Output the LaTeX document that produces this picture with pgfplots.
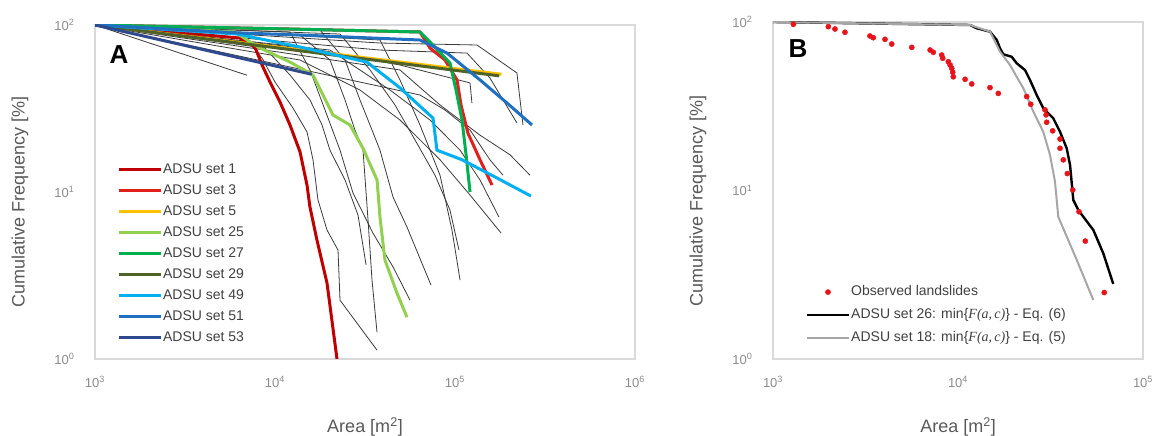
\documentclass[border=0pt]{standalone}
\usepackage{fontspec}
\setmainfont{Liberation Sans}
\newfontfamily\serifit{Liberation Serif}
\usepackage{pgfplots}
\pgfplotsset{compat=1.18}
\definecolor{axgray}{HTML}{D9D9D9}
\definecolor{labgray}{HTML}{595959}
\definecolor{tickgray}{HTML}{8C8C8C}
\definecolor{legtext}{HTML}{404040}
\definecolor{thincol}{HTML}{3A3A3A}
\definecolor{sA}{HTML}{C00000}
\definecolor{sB}{HTML}{E0201B}
\definecolor{sC}{HTML}{FFC000}
\definecolor{sD}{HTML}{92D050}
\definecolor{sE}{HTML}{00B050}
\definecolor{sF}{HTML}{4F6228}
\definecolor{sG}{HTML}{00B0F0}
\definecolor{sH}{HTML}{1F70C0}
\definecolor{sI}{HTML}{2F4A8C}
\definecolor{obsred}{HTML}{E8141C}
\definecolor{lgray}{HTML}{A6A6A6}
\begin{document}
\begin{tikzpicture}
\useasboundingbox (0pt,0pt) rectangle (1159pt,436pt);
% ---------------- Panel A ----------------
\begin{axis}[
  xmode=log, ymode=log, scale only axis,
  anchor=south west, at={(95pt,77pt)}, width=540pt, height=334pt,
  axis line style={axgray, line width=1.2pt},
  tick style={draw=none}, major tick length=0pt,
  xminorticks=false, yminorticks=false,
  xmin=1000, xmax=1000000, ymin=1, ymax=100,
  xtick={1000,10000,100000,1000000},
  xticklabels={10\textsuperscript{3},10\textsuperscript{4},10\textsuperscript{5},10\textsuperscript{6}},
  ytick={1,10,100},
  yticklabels={10\textsuperscript{0},10\textsuperscript{1},10\textsuperscript{2}},
  ticklabel style={font=\fontsize{13}{13}\selectfont, text=tickgray},
  yticklabel style={xshift=-17pt},
  xticklabel style={yshift=-14pt},
  label style={font=\fontsize{18}{20}\selectfont, text=labgray},
  xlabel={Area [m\textsuperscript{2}]},
  ylabel={Cumulative Frequency [\%]},
  xlabel style={at={(axis description cs:0.5,0)}, anchor=center, yshift=-68pt},
  ylabel style={at={(axis description cs:0,0.47)}, anchor=center, yshift=75pt},
  legend cell align=left,
  legend image code/.code={\draw[#1] (0pt,0pt) -- (42pt,0pt);},
  legend style={at={(rel axis cs:0.035,0.595)}, anchor=north west, draw=none, fill=none,
    font=\fontsize{14}{16}\selectfont, text=legtext, row sep=6pt,
    nodes={inner sep=1pt, text height=10.5pt, text depth=2.5pt}},
]
% thin lines
\addplot[thincol, line width=0.8pt, forget plot] coordinates {(1000,100) (7000,50)};
\addplot[thincol, line width=0.8pt, forget plot] coordinates {(1000,100) (6810,83.6) (8470,63.4) (10000,45.6) (12590,31.8) (15060,22.9) (16260,15.6) (17330,8.96) (19450,5.92) (22390,4.49) (22970,2.25) (36870,1.13)};
\addplot[thincol, line width=0.8pt, forget plot] coordinates {(1000,100) (13770,87.1) (20200,61.7) (24490,35.6) (27800,23.5) (30830,17.8) (32880,6.79) (34590,2.97) (36870,1.45)};
\addplot[thincol, line width=0.8pt, forget plot] coordinates {(1000,100) (12110,90.8) (15640,53.8) (18960,31.0) (22970,17.8) (27120,9.86) (35000,5.68) (45250,3.56) (56230,2.25)};
\addplot[thincol, line width=0.8pt, forget plot] coordinates {(1000,100) (17780,93.3) (24490,61.7) (29650,35.6) (34590,23.5) (38300,17.8) (45250,9.33) (54100,6.17) (73560,2.77)};
\addplot[thincol, line width=0.8pt, forget plot] coordinates {(1000,100) (22970,88.3) (33730,53.8) (46420,33.2) (59950,20.5) (77450,12.6) (93760,7.80) (105200,4.49)};
\addplot[thincol, line width=0.8pt, forget plot] coordinates {(1000,100) (38300,81.3) (49450,46.9) (63900,25.2) (82550,12.6) (96200,5.92) (106700,2.97)};
\addplot[thincol, line width=0.8pt, forget plot] coordinates {(1000,100) (20200,70.8) (43550,40.8) (72580,27.0) (106700,17.8) (137700,11.8) (175500,7.08)};
\addplot[thincol, line width=0.8pt, forget plot] coordinates {(1000,100) (13770,61.7) (29650,40.8) (49450,27.0) (82550,15.6) (121200,9.59) (180300,5.68)};
\addplot[thincol, line width=0.8pt, forget plot] coordinates {(1000,100) (49450,53.8) (82550,33.2) (137700,21.9) (202200,16.7) (261000,12.6)};
\addplot[thincol, line width=0.8pt, forget plot] coordinates {(1000,100) (63900,38.1) (87900,31.0) (121200,23.5) (156300,15.6) (184800,12.6)};
\addplot[thincol, line width=0.8pt, forget plot] coordinates {(1000,100) (38300,78.0) (132500,75.9) (220800,51.6) (238600,25.2)};
\addplot[thincol, line width=0.8pt, forget plot] coordinates {(1000,100) (38300,70.8) (116600,67.9) (156300,48.2) (220800,25.9)};
\addplot[thincol, line width=0.8pt, forget plot] coordinates {(1000,100) (17780,70.8) (49450,57.6) (121200,45.0) (124200,34.1)};
\addplot[thincol, line width=0.8pt, forget plot] coordinates {(1000,100) (8790,72.8) (12110,50.2) (15640,35.6) (18250,25.2) (20200,17.8) (24490,11.8) (28910,7.28) (32060,3.66)};
\addplot[thincol, line width=0.8pt, forget plot] coordinates {(1000,100) (12110,95.5) (63900,91.5) (72600,80.0) (90000,62.0)};
% coloured sets
\addplot[sA, line width=3pt] coordinates {(1000,100) (6390,83.5) (7740,73.8) (8470,57.6) (9380,45.6) (10660,34.6) (12110,25.2) (13770,17.4) (15060,11.0) (15640,8.13) (17100,5.16) (19450,2.85) (22100,1.0)};
\addlegendentry{ADSU set 1}
\addplot[sB, line width=3pt] coordinates {(1000,100) (12110,94.6) (63900,90.8) (72600,72.8) (88000,61.7) (102600,46.9) (108000,33.2) (118000,22.5) (137700,15.6) (160600,11.0)};
\addlegendentry{ADSU set 3}
\addplot[sC, line width=3pt] coordinates {(1000,100) (38300,62.1) (181500,50.7)};
\addlegendentry{ADSU set 5}
\addplot[sD, line width=3pt] coordinates {(1000,100) (5990,90.8) (8050,73.8) (12110,60.0) (16260,50.2) (21000,28.9) (26100,25.2) (30800,18.3) (36900,11.8) (38300,7.08) (40800,3.92) (47600,2.48) (54100,1.78)};
\addlegendentry{ADSU set 25}
\addplot[sE, line width=3pt] coordinates {(1000,100) (12110,94.6) (63900,90.8) (72600,79.1) (93800,59.2) (101300,40.8) (109400,27.0) (115200,16.7) (121200,10.0)};
\addlegendentry{ADSU set 27}
\addplot[sF, line width=3pt] coordinates {(1000,100) (38300,61.0) (176000,49.6)};
\addlegendentry{ADSU set 29}
\addplot[sG, line width=3pt] coordinates {(1000,100) (6150,88.3) (13770,73.8) (32400,60.0) (49500,42.0) (75500,27.7) (79400,17.8) (109400,15.6) (166900,12.3) (264000,9.46)};
\addlegendentry{ADSU set 49}
\addplot[sH, line width=3pt] coordinates {(1000,100) (6390,89.6) (13770,87.1) (63900,81.3) (90300,67.9) (137700,46.9) (194500,34.1) (267800,25.2)};
\addlegendentry{ADSU set 51}
\addplot[sI, line width=3pt] coordinates {(1000,100) (16000,50.7)};
\addlegendentry{ADSU set 53}
\end{axis}
\node[font=\bfseries\fontsize{26}{26}\selectfont] at (119pt,381pt) {A};
% ---------------- Panel B ----------------
\begin{axis}[
  xmode=log, ymode=log, scale only axis,
  anchor=south west, at={(773pt,77pt)}, width=370pt, height=337pt,
  axis line style={axgray, line width=1.2pt},
  tick style={draw=none}, major tick length=0pt,
  xminorticks=false, yminorticks=false,
  xmin=1000, xmax=100000, ymin=1, ymax=100,
  xtick={1000,10000,100000},
  xticklabels={10\textsuperscript{3},10\textsuperscript{4},10\textsuperscript{5}},
  ytick={1,10,100},
  yticklabels={10\textsuperscript{0},10\textsuperscript{1},10\textsuperscript{2}},
  ticklabel style={font=\fontsize{13}{13}\selectfont, text=tickgray},
  yticklabel style={xshift=-17pt},
  xticklabel style={yshift=-14pt},
  label style={font=\fontsize{18}{20}\selectfont, text=labgray},
  xlabel={Area [m\textsuperscript{2}]},
  ylabel={Cumulative Frequency [\%]},
  xlabel style={at={(axis description cs:0.5,0)}, anchor=center, yshift=-68pt},
  ylabel style={at={(axis description cs:0,0.47)}, anchor=center, yshift=75pt},
  legend cell align=left,
  legend image code/.code={\draw[#1] (0pt,0pt) -- (42pt,0pt);},
  legend style={at={(rel axis cs:0.08,0.228)}, anchor=north west, draw=none, fill=none,
    font=\fontsize{14}{16}\selectfont, text=legtext, row sep=7.5pt,
    nodes={inner sep=1pt, text height=10.5pt, text depth=3pt}},
]
\addplot[only marks, mark=*, mark size=2.6pt, color=obsred,
  legend image code/.code={\fill[obsred] (21pt,0pt) circle[radius=2.6pt]; \path (0pt,0pt) (42pt,0pt);}] coordinates {
(1288,96.9) (1991,93.8) (2162,90.9) (2449,86.9) (3342,82.6) (3484,80.7) (4030,78.9) (4382,74.0)
(5624,70.7) (7066,68.2) (7350,66.1) (8165,63.7) (8267,60.9) (8865,58.1) (9060,55.6) (9250,53.1)
(9360,50.3) (9430,47.3) (10920,45.7) (11860,42.9) (14890,40.8) (16510,37.7) (23510,36.1) (24720,32.5)
(29530,30.1) (29920,28.1) (30150,25.4) (32490,22.6) (35590,20.2) (35590,17.8) (37090,15.2) (38980,12.6)
(41700,10.07) (45080,7.48) (48760,5.01) (61710,2.48)};
\addlegendentry{Observed landslides}
\addplot[black, line width=2.4pt] coordinates {(1000,100) (11610,96.0) (12620,91.8) (14890,87.6) (16200,78.2) (16860,69.8) (17570,64.3) (19500,62.2) (20750,56.9) (23010,51.9) (24490,45.3) (26620,36.9) (28890,30.8) (32740,26.8) (35590,22.3) (38690,17.8) (40320,14.2) (41990,8.79) (44690,7.66) (53860,5.83) (60980,4.24) (69040,2.79)};
\addlegendentry{ADSU set 26: min\{{\serifit\itshape F(a,\,c)}\} - Eq. (6)}
\addplot[lgray, line width=2pt] coordinates {(1000,100) (11610,96.0) (14890,87.6) (16860,66.7) (19100,55.6) (20750,47.3) (22540,40.5) (25530,29.4) (28890,22.3) (31410,16.3) (33430,11.3) (34830,6.98) (43850,3.87) (53860,2.24)};
\addlegendentry{ADSU set 18: min\{{\serifit\itshape F(a,\,c)}\} - Eq. (5)}
\end{axis}
\node[font=\bfseries\fontsize{26}{26}\selectfont] at (798pt,387pt) {B};
\end{tikzpicture}
\end{document}
